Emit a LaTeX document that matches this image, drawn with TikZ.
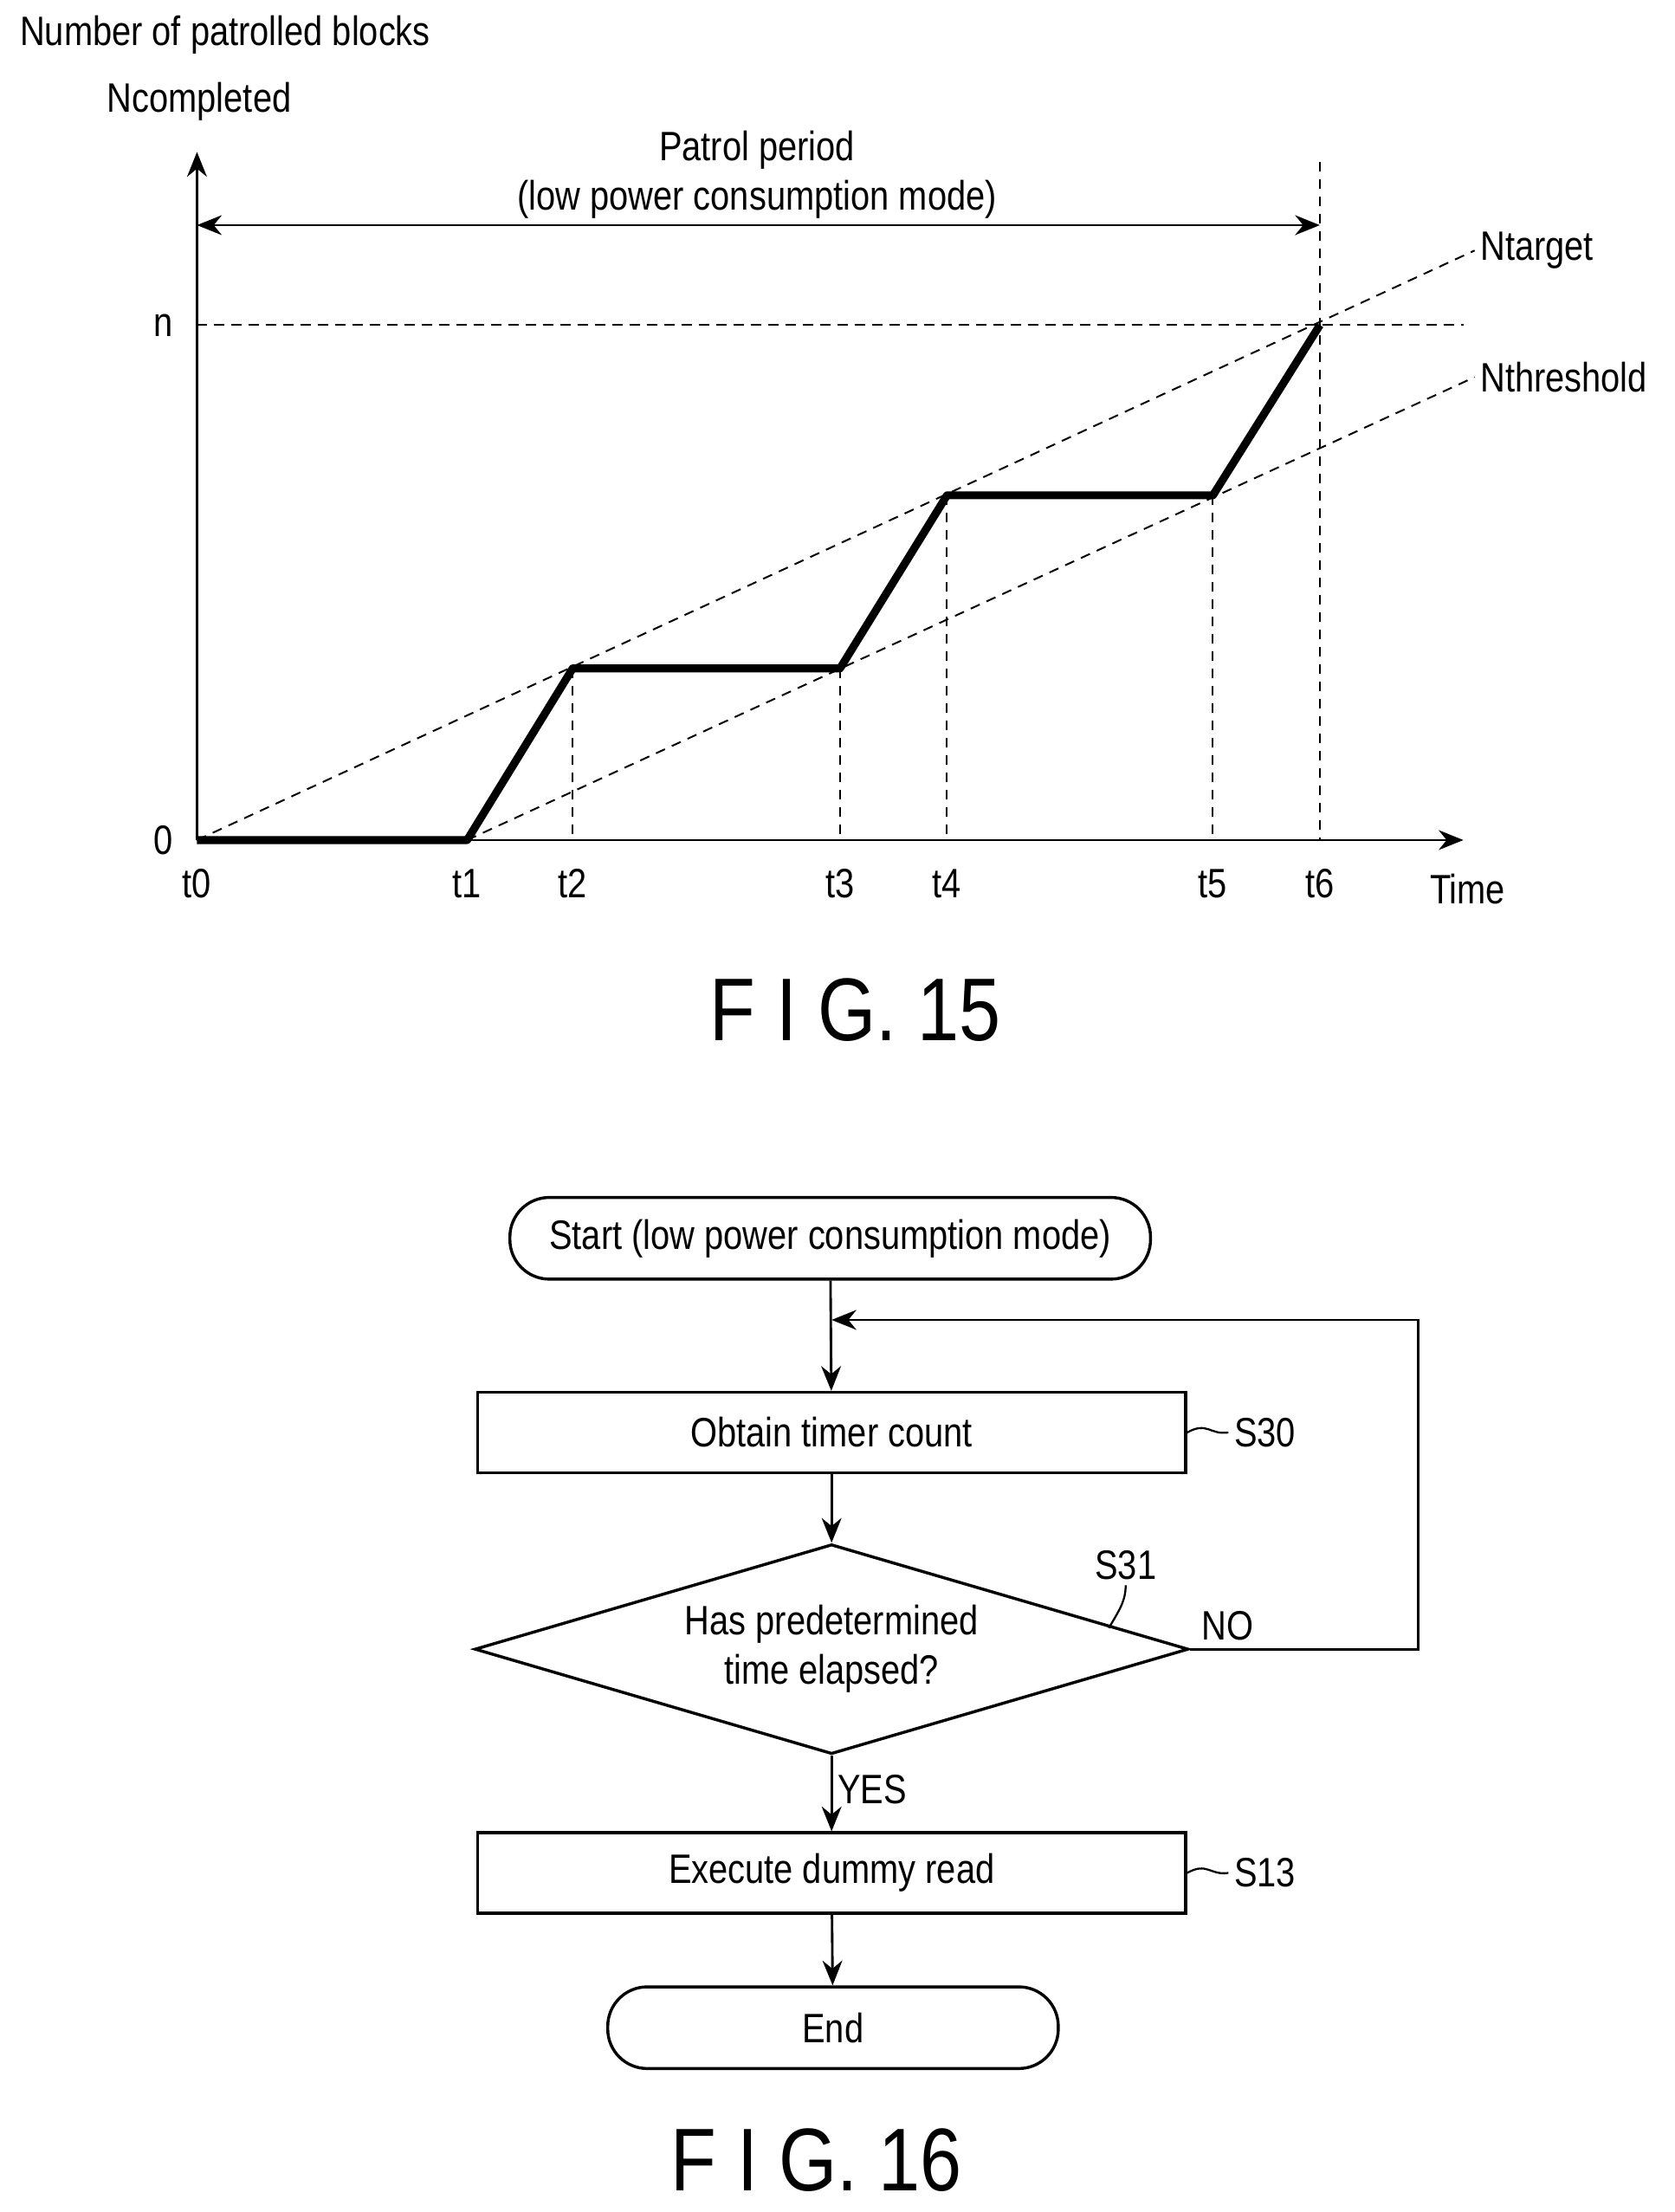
\documentclass[tikz,border=0pt]{standalone}
\usepackage{fontspec}
\setmainfont[FakeStretch=0.84]{Liberation Sans}
\usetikzlibrary{positioning, shapes.geometric, arrows.meta}
\tikzset{
  txt/.style={font=\fontsize{8.3}{10}\selectfont, inner sep=1pt},
  guide/.style={dashed, dash pattern=on 2pt off 1.5pt, line width=0.35pt},
  procbox/.style={draw, line width=0.6pt, minimum width=5.03cm, minimum height=0.57cm, font=\fontsize{8.3}{10}\selectfont},
  term/.style={draw, line width=0.6pt, rounded corners=0.28cm, minimum height=0.58cm, font=\fontsize{8.3}{10}\selectfont},
  flow/.style={-{Stealth[length=5pt,width=4pt]}, line width=0.5pt},
  fig/.style={font=\fontsize{18}{22}\selectfont}
}
\begin{document}
\begin{tikzpicture}[x=0.01cm, y=-0.01cm]
  \useasboundingbox (0,0) rectangle (1190,1572);
  % graph points
  \coordinate (o) at (140,597);
  \coordinate (p1) at (332,597);
  \coordinate (p2) at (407,475);
  \coordinate (p3) at (597,475);
  \coordinate (p4) at (673,352);
  \coordinate (p5) at (862,352);
  \coordinate (p6) at (938,231);
  % axes
  \draw[flow] (o) -- (140,108);
  \draw[flow] (o) -- (1040,597);
  \node[txt, anchor=west] (ylab) at (10,25) {Number of patrolled blocks};
  \node[txt, anchor=west] (ncomp) at (72,72) {Ncompleted};
  \node[txt] (xlab) at (1043,632) {Time};
  \node[txt, anchor=east] (zero) at (127,597) {0};
  \node[txt, anchor=east] (nlab) at (127,231) {n};
  % guides
  \draw[guide] (o) -- (1048,178) node[txt, anchor=west] (ntar) {Ntarget};
  \draw[guide] (p1) -- (1048,268) node[txt, anchor=west] (nthr) {Nthreshold};
  \draw[guide] (140,231) -- (1040,231);
  \draw[guide] (938,115) -- (938,597);
  \foreach \p in {p2,p3,p4,p5} \draw[guide] (\p) -- (\p |- o);
  % time labels
  \foreach \x/\t in {140/t0,332/t1,407/t2,597/t3,673/t4,862/t5,938/t6}
    \node[txt] (\t) at (\x,628) {\t};
  % patrol period
  \draw[{Stealth[length=5pt,width=4pt]}-{Stealth[length=5pt,width=4pt]}, line width=0.5pt] (140,160) -- (938,160);
  \node[txt, align=center] (period) at (538,124) {Patrol period\\(low power consumption mode)};
  % curve
  \draw[line width=1.6pt, line join=round] (o) -- (p1) -- (p2) -- (p3) -- (p4) -- (p5) -- (p6);
  \node[fig] (fig15) at (608,718) {F I G. 15};

  % flowchart
  \node[term, minimum width=4.55cm] (start) at (590,880) {Start (low power consumption mode)};
  \node[procbox] (s30) at (591,1018) {Obtain timer count};
  \node[draw, diamond, aspect=3.4, line width=0.6pt, inner sep=0pt, minimum width=5.07cm, minimum height=1.49cm, align=center, font=\fontsize{8.3}{10}\selectfont] (s31) at (591,1172) {Has predetermined\\time elapsed?};
  \node[procbox] (s13) at (591,1331) {Execute dummy read};
  \node[term, minimum width=3.2cm] (end) at (592,1441) {End};
  \coordinate (loop) at (591,938);
  \draw[flow] (start) -- (s30);
  \draw[flow] (s30) -- (s31);
  \draw[flow] (s31) -- (s13) node[txt, pos=0.45, anchor=west] (yes) {YES};
  \draw[flow] (s13) -- (end);
  \draw[flow] (s31.east) -- (1008,1172) -- (1008,938) -- (loop);
  \node[txt, anchor=south west] (no) at (850,1170) {NO};
  % step labels
  \node[txt, anchor=west] (l30) at (873,1018) {S30};
  \draw[line width=0.4pt] (s30.east) .. controls (858,1010) and (860,1020) .. (l30.west);
  \node[txt, anchor=west] (l13) at (873,1331) {S13};
  \draw[line width=0.4pt] (s13.east) .. controls (858,1323) and (860,1333) .. (l13.west);
  \node[txt] (l31) at (800,1112) {S31};
  \draw[line width=0.4pt] (788,1157) .. controls (795,1145) and (800,1138) .. (l31.south);
  \node[fig] (fig16) at (580,1535) {F I G. 16};
\end{tikzpicture}
\end{document}
